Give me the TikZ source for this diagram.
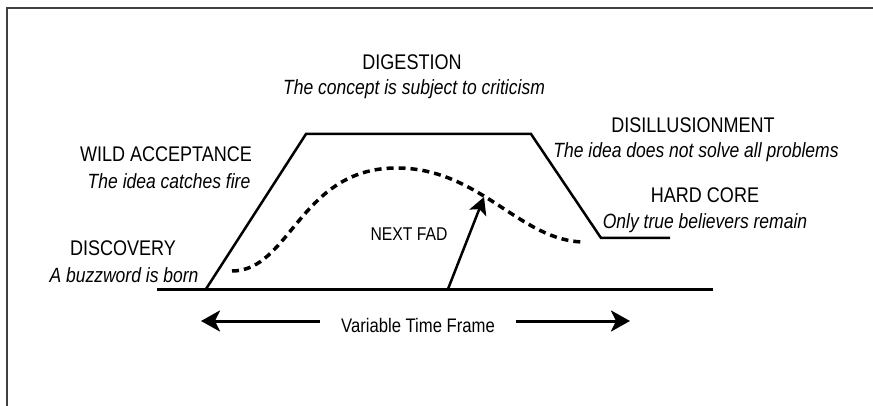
\documentclass[tikz,border=0pt]{standalone}
\usepackage{fontspec}
\setmainfont{Liberation Sans}[FakeStretch=0.85]
\usepackage{tikz}
\usetikzlibrary{arrows.meta}
\tikzset{
    heading/.style={anchor=base,inner sep=0pt,font=\fontsize{21.2}{25}\selectfont},
    subline/.style={anchor=base,inner sep=0pt,font=\fontsize{20.6}{24}\selectfont\itshape},
    plainlabel/.style={anchor=base,inner sep=0pt,font=\fontsize{19.6}{23}\selectfont},
    curve/.style={line width=2.5pt,line join=miter},
    fad/.style={line width=3.5pt,dash pattern=on 7pt off 5pt},
    nextarrow/.style={line width=2.5pt,-{Stealth[length=17pt,width=18pt,inset=4pt]}},
    timearrow/.style={line width=3pt,-{Stealth[length=19pt,width=21pt,inset=5pt]}}
}
\begin{document}
\begin{tikzpicture}[x=1pt,y=-1pt]
\useasboundingbox (0,0) rectangle (873,406);
\draw[line width=2pt,black!75] (6.5,406) -- (6.5,8) -- (873,8);

\coordinate (b1) at (157,289);
\coordinate (b2) at (713,289);
\coordinate (s1) at (206,289);
\coordinate (s2) at (306,134);
\coordinate (s3) at (531,134);
\coordinate (s4) at (601,238);
\coordinate (s5) at (670,238);
\coordinate (f1) at (448,289);
\coordinate (f2) at (484,197);
\coordinate (ltip) at (201,321);
\coordinate (rtip) at (630,321);

\draw[line width=3pt] (b1) -- (b2);
\draw[curve] (s1) -- (s2) -- (s3) -- (s4) -- (s5);
\draw[fad] (232,271) .. controls (290,271) and (300,169) .. (395,168)
    .. controls (480,167) and (520,242) .. (585,242);
\draw[nextarrow] (f1) -- (f2);

\node[heading] (digestion) at (412,70) {DIGESTION};
\node[subline] (digestionsub) at (414,95) {The concept is subject to criticism};
\node[heading] (wild) at (166,162) {WILD ACCEPTANCE};
\node[subline] (wildsub) at (169,189) {The idea catches fire};
\node[heading] (discovery) at (123,255) {DISCOVERY};
\node[subline] (discoverysub) at (124,282) {A buzzword is born};
\node[heading] (disillusion) at (693,133) {DISILLUSIONMENT};
\node[subline] (disillusionsub) at (696,158) {The idea does not solve all problems};
\node[heading] (hardcore) at (705,203) {HARD CORE};
\node[subline] (hardcoresub) at (705,229) {Only true believers remain};
\node[plainlabel,font=\fontsize{18.5}{22}\selectfont] (nextfad) at (409,241) {NEXT FAD};

\node[plainlabel,inner xsep=21pt] (vtf) at (418,332) {Variable Time Frame};
\draw[timearrow] (vtf.west |- ltip) -- (ltip);
\draw[timearrow] (vtf.east |- rtip) -- (rtip);
\end{tikzpicture}
\end{document}
